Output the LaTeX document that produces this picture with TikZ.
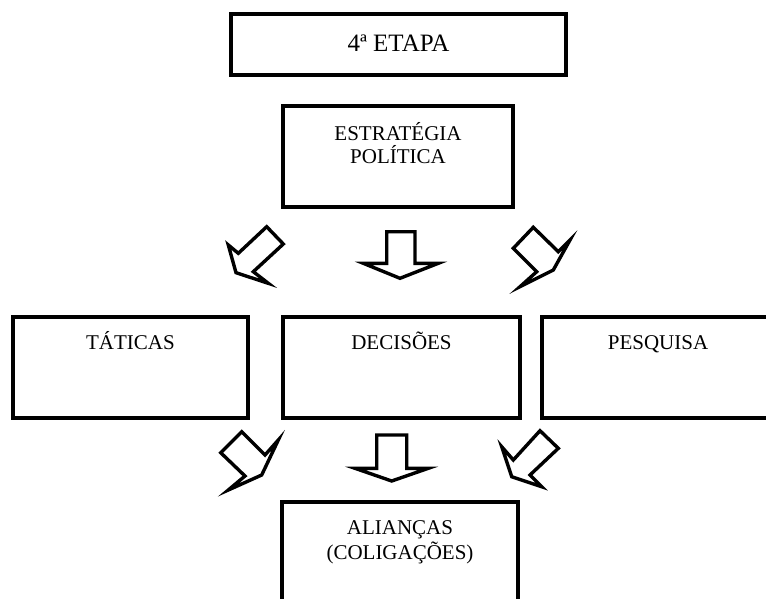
\documentclass[tikz,border=0pt]{standalone}
\usepackage{fontspec}
\setmainfont{Liberation Serif}
\begin{document}
\begin{tikzpicture}[x=1pt,y=-1pt,
  box/.style={draw=black,line width=4pt,inner sep=0pt},
  lbl/.style={inner sep=0pt,anchor=base,font=\fontsize{21}{23}\selectfont},
  blockarrow/.style={draw=black,line width=3.4pt,line join=miter,fill=white}]
\useasboundingbox (0,0) rectangle (766,598);
\clip (0,0) rectangle (766,598);
% boxes
\node[box,minimum width=335pt,minimum height=61pt] (etapa) at (398.5,44.5) {};
\node[box,minimum width=230pt,minimum height=101pt] (estrategia) at (398,156.5) {};
\node[box,minimum width=235pt,minimum height=101pt] (taticas) at (130.5,367.5) {};
\node[box,minimum width=237pt,minimum height=101pt] (decisoes) at (401.5,367.5) {};
\node[box,minimum width=232pt,minimum height=101pt] (pesquisa) at (658,367.5) {};
\node[box,minimum width=236pt,minimum height=110pt] (aliancas) at (400,557) {};
% texts
\node[lbl,font=\fontsize{25}{28}\selectfont] (etapaT) at (398.5,51) {4ª ETAPA};
\node[lbl] (estrA) at (398,140) {ESTRATÉGIA};
\node[lbl] (estrB) at (398,163) {POLÍTICA};
\node[lbl] (taticasT) at (130.5,349) {TÁTICAS};
\node[lbl] (decisoesT) at (401.5,349) {DECISÕES};
\node[lbl] (pesquisaT) at (658,349) {PESQUISA};
\node[lbl] (aliancasA) at (400,534.5) {ALIANÇAS};
\node[lbl] (aliancasB) at (400,559) {(COLIGAÇÕES)};
% upper block arrows
\draw[blockarrow] (266.7,226.7) -- (283.3,244) -- (253.3,271.7) -- (268.3,283.3) -- (236,272.7) -- (228.3,245) -- (238.3,253.3) -- cycle;
\draw[blockarrow] (386.7,231.7) -- (415,231.7) -- (415,263.3) -- (438.3,263.3) -- (400,278.3) -- (363.3,263.3) -- (386.7,263.3) -- cycle;
\draw[blockarrow] (533.3,227.3) -- (558.3,251.7) -- (570,240) -- (553.3,270) -- (520,286.7) -- (536.7,271.7) -- (513.3,248.3) -- cycle;
% lower block arrows
\draw[blockarrow] (241.7,431.7) -- (265,455) -- (278.3,440) -- (261.7,475) -- (228.3,490) -- (245,476) -- (220.7,452.7) -- cycle;
\draw[blockarrow] (376.7,435) -- (406.7,435) -- (406.7,468.3) -- (428.3,468.3) -- (391.7,481) -- (355,468.3) -- (376.7,468.3) -- cycle;
\draw[blockarrow] (540,430.7) -- (558.3,448.3) -- (530,475) -- (541.7,486.7) -- (511.7,476.7) -- (501.7,446.7) -- (513.3,460) -- cycle;
\end{tikzpicture}
\end{document}
